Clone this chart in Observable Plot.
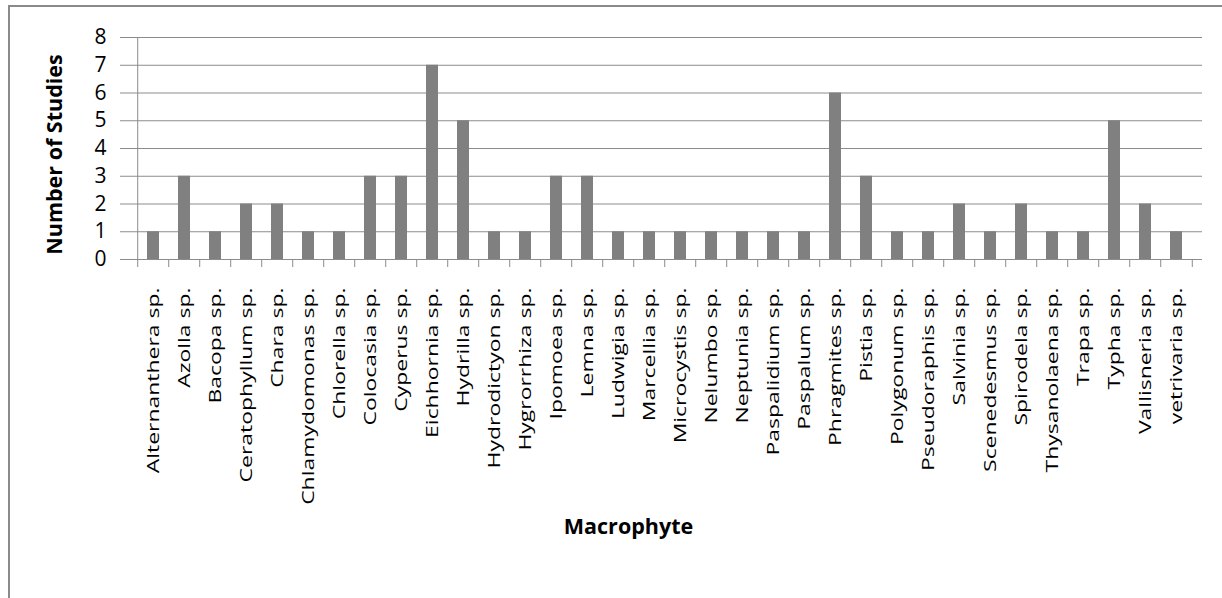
<!DOCTYPE html>
<html>
<head>
<meta charset="utf-8">
<script src="https://cdn.jsdelivr.net/npm/d3@7"></script>
<script src="https://cdn.jsdelivr.net/npm/@observablehq/plot@0.6"></script>
<style>
  html, body { margin: 0; padding: 0; background: #fff; overflow: hidden; }
  #chart { position: absolute; left: 0; top: 0; }
  #frame { position: absolute; left: 8px; top: 5px; width: 1400px; height: 800px;
           border-left: 2px solid #8a8a8a; border-top: 2px solid #8a8a8a;
           background: transparent; pointer-events: none; }
</style>
</head>
<body>
<div id="chart"></div>
<div id="frame"></div>
<script>
const genera = [
  "Alternanthera sp.", "Azolla sp.", "Bacopa sp.", "Ceratophyllum sp.", "Chara sp.",
  "Chlamydomonas sp.", "Chlorella sp.", "Colocasia sp.", "Cyperus sp.", "Eichhornia sp.",
  "Hydrilla sp.", "Hydrodictyon sp.", "Hygrorrhiza sp.", "Ipomoea sp.", "Lemna sp.",
  "Ludwigia sp.", "Marcellia sp.", "Microcystis sp.", "Nelumbo sp.", "Neptunia sp.",
  "Paspalidium sp.", "Paspalum sp.", "Phragmites sp.", "Pistia sp.", "Polygonum sp.",
  "Pseudoraphis sp.", "Salvinia sp.", "Scenedesmus sp.", "Spirodela sp.", "Thysanolaena sp.",
  "Trapa sp.", "Typha sp.", "Vallisneria sp.", "vetrivaria sp."
];
const studies = [
  1, 3, 1, 2, 2,
  1, 1, 3, 3, 7,
  5, 1, 1, 3, 3,
  1, 1, 1, 1, 1,
  1, 1, 6, 3, 1,
  1, 2, 1, 2, 1,
  1, 5, 2, 1
];
const yTicks = [0, 1, 2, 3, 4, 5, 6, 7, 8];
const xTitle = "Macrophyte";
const yTitle = "Number of Studies";

const table = genera.map((g, i) => ({genus: g, studies: studies[i]}));

const W = 1222, H = 598;
const mL = 128, mR = 20, mT = 37, mB = 339;
const step = (W - mL - mR) / genera.length;
const axisColor = "#8c8c8c";
const font = "'Open Sans', 'DejaVu Sans', sans-serif";

const plot = Plot.plot({
  width: W,
  height: H,
  marginLeft: mL,
  marginRight: mR,
  marginTop: mT,
  marginBottom: mB,
  style: {fontFamily: font, color: "#000", background: "#fff"},
  x: {domain: genera, paddingInner: 0.61, paddingOuter: 0.305},
  y: {domain: [0, d3.max(yTicks)]},
  marks: [
    Plot.gridY(yTicks, {stroke: axisColor, strokeOpacity: 1, strokeWidth: 1}),
    Plot.barY(table, {x: "genus", y: "studies", fill: "#808080"}),
    // y axis line at left edge of first band
    Plot.ruleX([genera[0]], {x: d => d, dx: -step / 2, y1: 0, y2: d3.max(yTicks), stroke: axisColor}),
    Plot.axisY({ticks: yTicks, tickSize: 8, tickPadding: 14, fontSize: 21, label: null,
                stroke: axisColor, color: "#000"}),
    // boundary tick marks on the x axis
    Plot.axisX({ticks: genera, tickSize: 8, tickFormat: () => "", label: null,
                dx: -step / 2, stroke: axisColor}),
    Plot.axisX({ticks: [genera[genera.length - 1]], tickSize: 8, tickFormat: () => "", label: null,
                dx: step / 2, stroke: axisColor}),
    // category labels
    Plot.axisX({ticks: genera, tickSize: 0, tickPadding: 28, tickRotate: -90, fontSize: 17,
                label: null, fill: "#000"}),
    Plot.text([yTitle], {frameAnchor: "left", textAnchor: "middle", lineAnchor: "middle",
                rotate: -90, dx: -73, dy: 6, fontSize: 21.5, fontWeight: "bold", fill: "#000"}),
    Plot.text([xTitle], {frameAnchor: "bottom", textAnchor: "middle", lineAnchor: "middle",
                dx: -37, dy: 268, fontSize: 21.5, fontWeight: "bold", fill: "#000"})
  ]
});

// stretch category labels along their reading direction (narrow, tall glyphs as in the reference)
plot.querySelectorAll('g[aria-label="x-axis tick label"] text').forEach(t => {
  const tr = t.getAttribute("transform") || "";
  t.setAttribute("transform", tr + " scale(1.35,1)");
});

document.getElementById("chart").appendChild(plot);
</script>
</body>
</html>
